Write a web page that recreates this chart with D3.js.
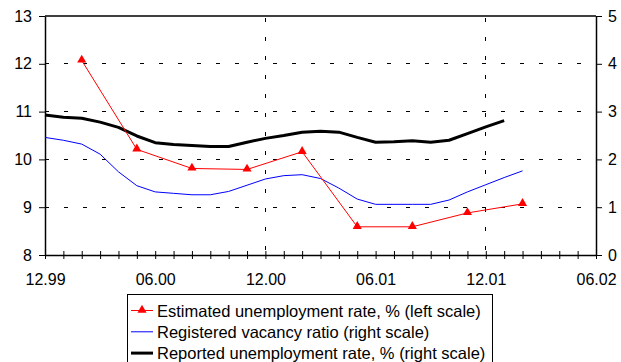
<!DOCTYPE html>
<html>
<head>
<meta charset="utf-8">
<script src="https://cdn.jsdelivr.net/npm/d3@7"></script>
<style>
  body { margin: 0; background: #fff; }
  text { font-family: "Liberation Sans", Arial, sans-serif; }
</style>
</head>
<body>
<svg id="chart" width="621" height="362"></svg>
<script>
// month index 0 = 12.99, 30 = 06.02
const tickLabels = ["12.99", "06.00", "12.00", "06.01", "12.01", "06.02"];
const leftTicks = [8, 9, 10, 11, 12, 13];
const rightTicks = [0, 1, 2, 3, 4, 5];

// estimated unemployment rate, % (left scale), quarterly
const estMonths = [2, 5, 8, 11, 14, 17, 20, 23, 26];
const estValues = [12.07, 10.21, 9.81, 9.79, 10.16, 8.59, 8.59, 8.88, 9.07];

// registered vacancy ratio (right scale), monthly from 12.99
const vacValues = [2.46, 2.40, 2.32, 2.11, 1.74, 1.45, 1.32, 1.29, 1.26, 1.26,
                   1.33, 1.46, 1.59, 1.66, 1.68, 1.60, 1.40, 1.17, 1.06, 1.06,
                   1.06, 1.06, 1.15, 1.32, 1.47, 1.62, 1.76];

// reported unemployment rate, % (right scale), monthly from 12.99
const repValues = [2.93, 2.88, 2.86, 2.78, 2.67, 2.49, 2.35, 2.31, 2.29, 2.27,
                   2.27, 2.36, 2.44, 2.50, 2.57, 2.59, 2.57, 2.46, 2.36, 2.37,
                   2.39, 2.36, 2.40, 2.54, 2.68, 2.81];

const legendItems = [
  { label: "Estimated unemployment rate, % (left scale)", color: "#ff0000", width: 1, marker: true },
  { label: "Registered vacancy ratio (right scale)", color: "#0000ff", width: 1, marker: false },
  { label: "Reported unemployment rate, % (right scale)", color: "#000000", width: 3, marker: false }
];

let svg = d3.select("svg#chart");
let margin = { top: 16, left: 45, right: 25, bottom: 107 };
let chartWidth = 621 - margin.left - margin.right;
let chartHeight = 362 - margin.top - margin.bottom;

const xScale = d3.scaleLinear().domain([0, 30]).range([margin.left, margin.left + chartWidth]);
const yLeft = d3.scaleLinear().domain([8, 13]).range([margin.top + chartHeight, margin.top]);
const yRight = d3.scaleLinear().domain([0, 5]).range([margin.top + chartHeight, margin.top]);

// dashed grid
let grid = svg.append("g");
grid.selectAll("line.h")
  .data([9, 10, 11, 12])
  .join("line")
  .attr("x1", xScale(0)).attr("x2", xScale(30))
  .attr("y1", d => yLeft(d)).attr("y2", d => yLeft(d))
  .attr("stroke", "#000").attr("stroke-width", 1)
  .attr("stroke-dasharray", "4,15").attr("shape-rendering", "crispEdges");
grid.selectAll("line.v")
  .data([12, 24])
  .join("line")
  .attr("x1", d => xScale(d)).attr("x2", d => xScale(d))
  .attr("y1", margin.top).attr("y2", margin.top + chartHeight)
  .attr("stroke", "#000").attr("stroke-width", 1)
  .attr("stroke-dasharray", "4,15").attr("stroke-dashoffset", -2)
  .attr("shape-rendering", "crispEdges");

// top border
svg.append("line")
  .attr("x1", xScale(0)).attr("x2", xScale(30))
  .attr("y1", margin.top).attr("y2", margin.top)
  .attr("stroke", "#000").attr("stroke-width", 1.5);

// axes
let bottomAxis = d3.axisBottom(xScale)
  .tickValues(d3.range(0, 31))
  .tickSizeInner(4).tickSizeOuter(0)
  .tickFormat(d => d % 6 === 0 ? tickLabels[d / 6] : "");
let xg = svg.append("g")
  .attr("transform", "translate(0," + (margin.top + chartHeight) + ")")
  .call(bottomAxis);
xg.selectAll(".tick line").attr("y1", -4).attr("y2", 4);
xg.selectAll(".tick text").attr("y", 30).attr("dy", 0).attr("font-size", 16).attr("fill", "#000");

let leftAxis = d3.axisLeft(yLeft).tickValues(leftTicks).tickFormat(d3.format("d"))
  .tickSizeInner(6).tickSizeOuter(0);
let lg = svg.append("g")
  .attr("transform", "translate(" + margin.left + ",0)")
  .call(leftAxis);
lg.selectAll(".tick text").attr("x", -13).attr("font-size", 16).attr("fill", "#000");

let rightAxis = d3.axisRight(yRight).tickValues(rightTicks).tickFormat(d3.format("d"))
  .tickSizeInner(6).tickSizeOuter(0);
let rg = svg.append("g")
  .attr("transform", "translate(" + (margin.left + chartWidth) + ",0)")
  .call(rightAxis);
rg.selectAll(".tick text").attr("x", 12).attr("font-size", 16).attr("fill", "#000");

svg.selectAll(".domain").attr("stroke", "#000").attr("stroke-width", 1.5);
svg.selectAll(".tick line").attr("stroke", "#000");
svg.selectAll(".tick text").attr("font-family", "Liberation Sans, Arial, sans-serif");

// lines
let vacLine = d3.line().x((d, i) => xScale(i)).y(d => yRight(d));
svg.append("path")
  .datum(vacValues)
  .attr("d", vacLine)
  .attr("fill", "none").attr("stroke", "#0000ff").attr("stroke-width", 1);

let repLine = d3.line().x((d, i) => xScale(i)).y(d => yRight(d));
svg.append("path")
  .datum(repValues)
  .attr("d", repLine)
  .attr("fill", "none").attr("stroke", "#000").attr("stroke-width", 3)
  .attr("stroke-linejoin", "round");

let estData = estMonths.map((m, i) => ({ m: m, v: estValues[i] }));
let estLine = d3.line().x(d => xScale(d.m)).y(d => yLeft(d.v));
svg.append("path")
  .datum(estData)
  .attr("d", estLine)
  .attr("fill", "none").attr("stroke", "#ff0000").attr("stroke-width", 1);

let tri = d3.symbol().type(d3.symbolTriangle).size(36);
svg.selectAll("path.marker")
  .data(estData)
  .join("path")
  .attr("class", "marker")
  .attr("d", tri)
  .attr("transform", d => "translate(" + xScale(d.m) + "," + (yLeft(d.v) - 0.5) + ")")
  .attr("fill", "#ff0000");

// legend
let legend = svg.append("g");
legend.append("rect")
  .attr("x", 127.5).attr("y", 294.5)
  .attr("width", 365).attr("height", 80)
  .attr("fill", "#fff").attr("stroke", "#000").attr("stroke-width", 1);
legendItems.forEach((d, i) => {
  let cy = 310.5 + i * 21.3;
  legend.append("line")
    .attr("x1", 131).attr("x2", 153)
    .attr("y1", cy).attr("y2", cy)
    .attr("stroke", d.color).attr("stroke-width", d.width);
  if (d.marker) {
    legend.append("path")
      .attr("d", tri)
      .attr("transform", "translate(142," + (cy - 0.5) + ")")
      .attr("fill", d.color);
  }
  legend.append("text")
    .attr("x", 157).attr("y", cy + 6)
    .attr("font-size", 16.5)
    .attr("fill", "#000")
    .text(d.label);
});
</script>
</body>
</html>
